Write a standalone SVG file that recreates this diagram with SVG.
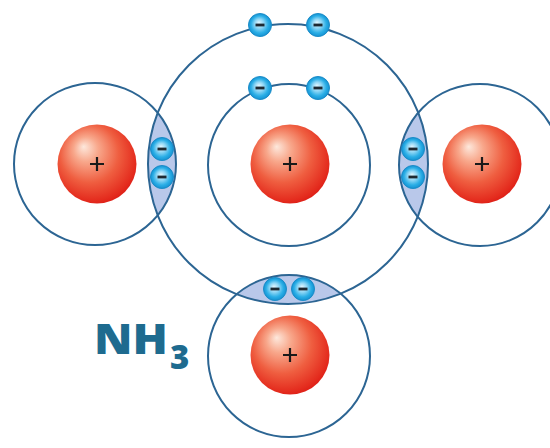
<svg xmlns="http://www.w3.org/2000/svg" width="550" height="448" viewBox="0 0 550 448">
  <defs>
    <radialGradient id="nucleusFill" cx="0.45" cy="0.42" r="0.62" fx="0.33" fy="0.28">
      <stop offset="0" stop-color="#fde8dc"/>
      <stop offset="0.25" stop-color="#f8a88c"/>
      <stop offset="0.6" stop-color="#ef5e40"/>
      <stop offset="0.9" stop-color="#e42c1e"/>
      <stop offset="1" stop-color="#dc1a14"/>
    </radialGradient>
    <radialGradient id="electronFill" cx="0.5" cy="0.5" r="0.5" fx="0.45" fy="0.4">
      <stop offset="0" stop-color="#e2f6fe"/>
      <stop offset="0.4" stop-color="#8fd6f5"/>
      <stop offset="0.75" stop-color="#2aaee6"/>
      <stop offset="1" stop-color="#1592d2"/>
    </radialGradient>
    <clipPath id="outerShellClip">
      <circle cx="288" cy="164" r="140"/>
    </clipPath>
    <symbol id="electron" overflow="visible">
      <circle cx="0" cy="0" r="11.5" fill="url(#electronFill)" stroke="#1a8cc8" stroke-width="1"/>
      <line x1="-4.5" y1="0" x2="4.5" y2="0" stroke="#1e2a33" stroke-width="2.8"/>
    </symbol>
    <symbol id="nucleus" overflow="visible">
      <circle cx="0" cy="0" r="39.5" fill="url(#nucleusFill)"/>
      <path d="M-7 0H7M0 -7V7" stroke="#1a1a1a" stroke-width="2.2"/>
    </symbol>
  </defs>
  <style>
    .shell { fill: none; stroke: #2c6593; stroke-width: 2; }
    .lens { fill: #b9c8ea; }
    .label { font-family: "Open Sans", "Liberation Sans", sans-serif; font-weight: 800; fill: #1e6b8f; }
  </style>

  <rect width="550" height="448" fill="#ffffff"/>

  <!-- shared electron pairs: overlap regions of hydrogen shells with the nitrogen outer shell -->
  <g id="bond-regions" clip-path="url(#outerShellClip)">
    <circle class="lens" cx="95" cy="164" r="81"/>
    <circle class="lens" cx="480" cy="165" r="81"/>
    <circle class="lens" cx="289" cy="356" r="81"/>
  </g>

  <g id="shells">
    <circle class="shell" cx="288" cy="164" r="140"/>
    <circle class="shell" cx="289" cy="165" r="81"/>
    <circle class="shell" cx="95" cy="164" r="81"/>
    <circle class="shell" cx="480" cy="165" r="81"/>
    <circle class="shell" cx="289" cy="356" r="81"/>
  </g>

  <g id="atom-N">
    <use href="#nucleus" x="290" y="164"/>
    <use href="#electron" x="260" y="88"/>
    <use href="#electron" x="318" y="88"/>
    <use href="#electron" x="260" y="25"/>
    <use href="#electron" x="318" y="25"/>
  </g>

  <g id="atom-H-left">
    <use href="#nucleus" x="97" y="164"/>
    <use href="#electron" x="162" y="149"/>
    <use href="#electron" x="162" y="177"/>
  </g>

  <g id="atom-H-right">
    <use href="#nucleus" x="482" y="164"/>
    <use href="#electron" x="413" y="149"/>
    <use href="#electron" x="413" y="177"/>
  </g>

  <g id="atom-H-bottom">
    <use href="#nucleus" x="290" y="355"/>
    <use href="#electron" x="275" y="289"/>
    <use href="#electron" x="303" y="289"/>
  </g>

  <g id="formula">
    <text class="label" x="94" y="354" font-size="43" textLength="74" lengthAdjust="spacingAndGlyphs">NH</text>
    <text class="label" x="170" y="369" font-size="33">3</text>
  </g>
</svg>
